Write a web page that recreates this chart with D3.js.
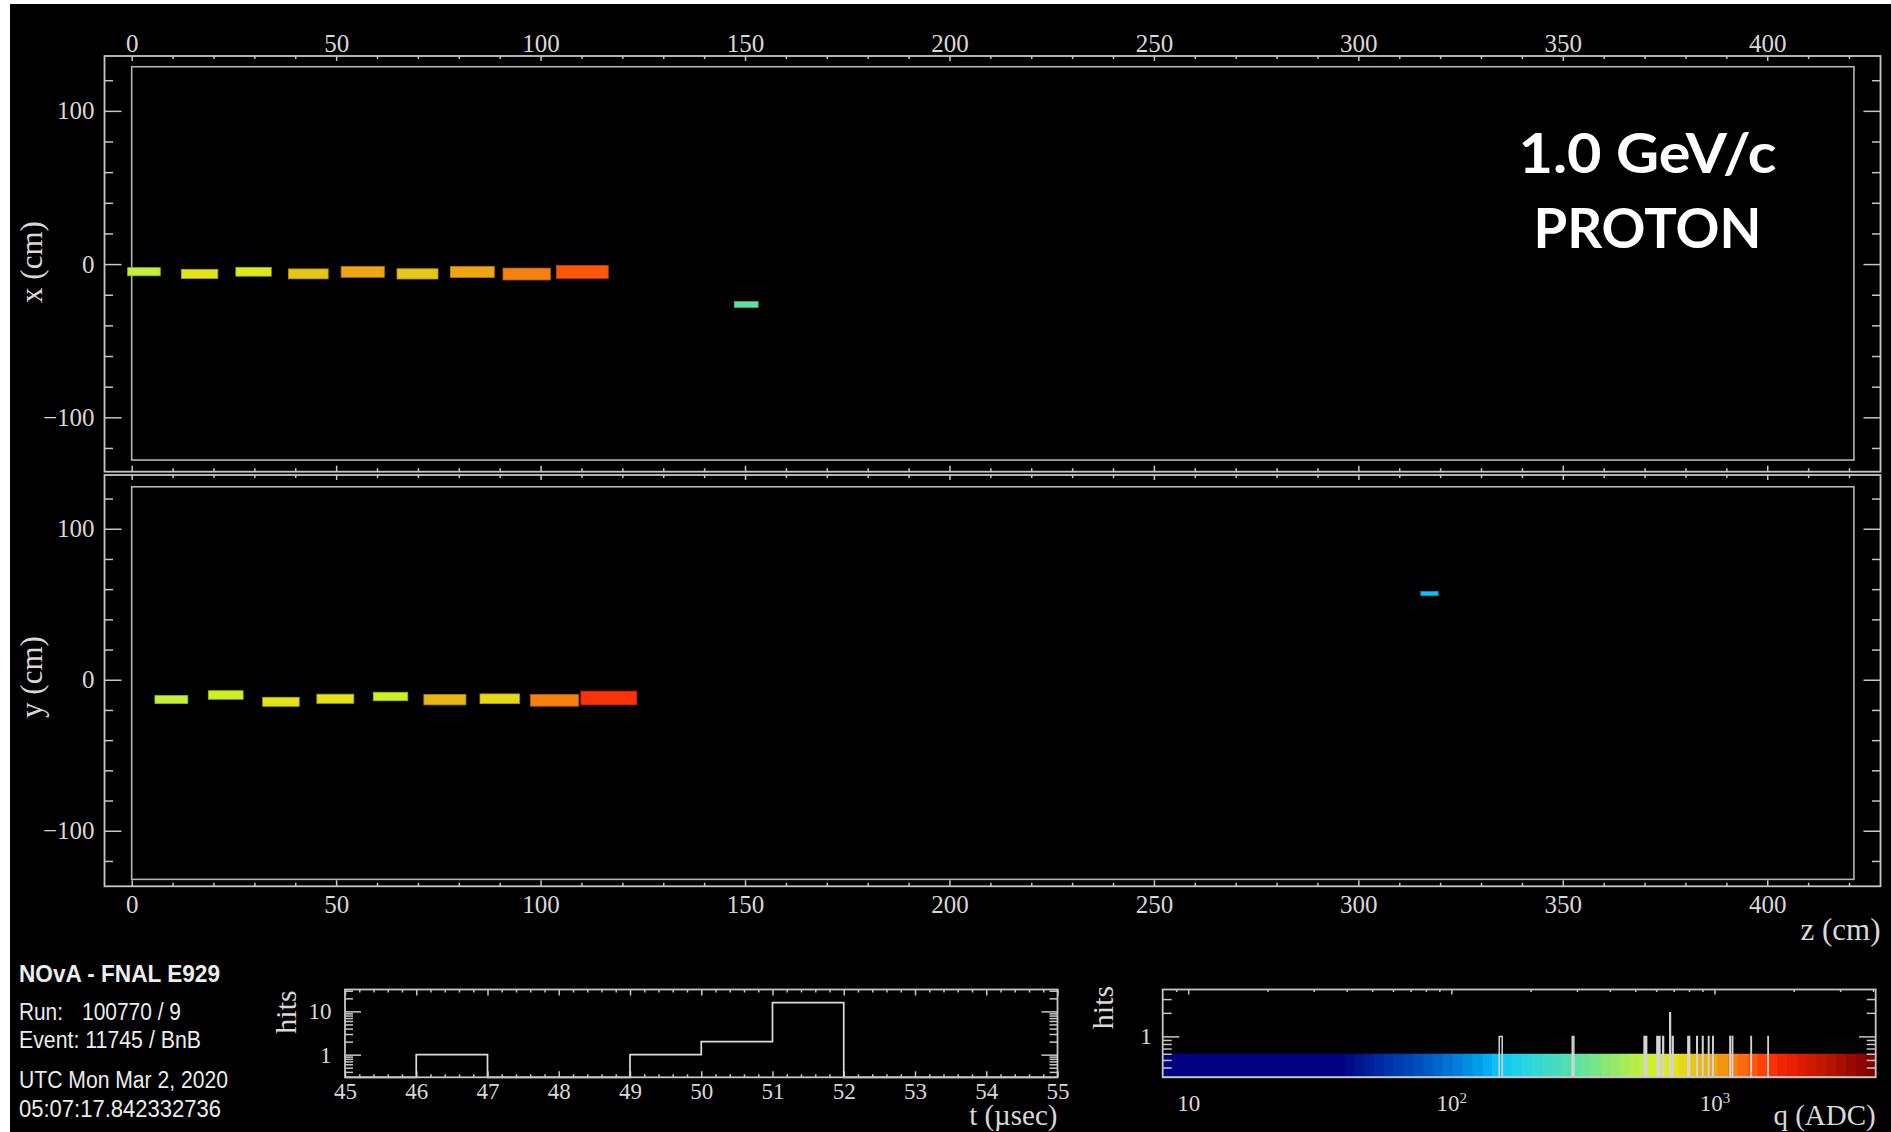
<!DOCTYPE html>
<html>
<head>
<meta charset="utf-8">
<script src="https://cdn.jsdelivr.net/npm/d3@7"></script>
<style>
  html, body { margin: 0; padding: 0; background: #fff; }
  svg { display: block; }
</style>
</head>
<body>
<svg id="display" width="1891" height="1132"></svg>
<script>
// ---------------------------------------------------------------
// Event data
// ---------------------------------------------------------------
// XZ view hits: plane centre z (cm), cell centre x (cm), charge (ADC)
const xzHitZ      = [3.0, 16.6, 29.8, 43.2, 56.5, 69.9, 83.3, 96.6, 110.2, 150.3];
const xzHitX      = [-5.0, -6.4, -5.0, -6.4, -5.1, -6.4, -5.1, -6.5, -5.1, -26.4];
const xzHitCharge = [541, 679, 638, 803, 949, 857, 985, 1145, 1379, 290];

// YZ view hits: plane centre z (cm), cell centre y (cm), charge (ADC)
const yzHitZ      = [9.7, 23.0, 36.5, 49.8, 63.3, 76.6, 90.0, 103.4, 116.7, 317.4];
const yzHitY      = [-13.1, -10.1, -14.6, -12.6, -11.1, -13.2, -12.6, -13.6, -12.1, 57.1];
const yzHitCharge = [551, 616, 679, 692, 606, 900, 792, 1171, 1596, 153];

// Active detector outline in each view (cm)
const detectorZ = [0, 421.2];
const detectorX = [-127.9, 128.8];
const detectorY = [-132.2, 127.8];

// Hit timing histogram (1 usec bins)
const timeBinEdges  = [45, 46, 47, 48, 49, 50, 51, 52, 53, 54, 55];
const timeBinCounts = [0, 1, 0, 0, 1, 2, 16, 0, 0, 0];

// Tick labels
const zTickLabels      = [0, 50, 100, 150, 200, 250, 300, 350, 400];
const transTickLabels  = [-100, 0, 100];
const timeTickLabels   = [45, 46, 47, 48, 49, 50, 51, 52, 53, 54, 55];
const hitsTickLabels   = [1, 10];
const chargeTickLabels = [10, 100, 1000];
const qHitsTickLabels  = [1];

// Text
const beamLabel  = ["1.0 GeV/c", "PROTON"];
const infoTitle  = "NOvA - FNAL E929";
const infoRun    = ["Run:", "100770 / 9"];
const infoEvent  = "Event: 11745 / BnB";
const infoDate   = "UTC Mon Mar 2, 2020";
const infoTime   = "05:07:17.842332736";

// ---------------------------------------------------------------
// Styling
// ---------------------------------------------------------------
const FRAME = "#c6c6c6";
const TEXT  = "#d8d8d8";
const SERIF = '"Liberation Serif", "Times New Roman", serif';
const SANS  = '"Liberation Sans", Arial, sans-serif';

// Charge palette (position along log-charge scale -> colour)
const palStops  = [0, .027, .088, .151, .212, .273, .304, .365, .441, .508, .569, .594, .637, .674, .711, .748, .798, .840, .909, 1];
const palColors = ["#000080", "#001088", "#0030a8", "#0050c0", "#0078d8", "#00a8f0", "#10c8f8", "#30d8d8",
                   "#58e0a8", "#90e870", "#c0f040", "#d0f020", "#e8e018", "#e8c018", "#f0a010", "#f87810",
                   "#ff4008", "#f02000", "#c01800", "#800000"];
const NCOL = 55;
const palInterp = d3.scaleLinear().domain(palStops).range(palColors).interpolate(d3.interpolateRgb);
const qPal = d3.scaleLog().domain([36, 4096]).range([0, 1]).clamp(true);
function chargeColor(q) {
  const i = Math.min(NCOL - 1, Math.floor(qPal(q) * NCOL));
  return palInterp(i / (NCOL - 1));
}

// Hit box size grows with charge (area ~ charge); cells are deeper in z than wide
const hitSize = d3.scaleSqrt().domain([0, 1600]).range([0, 13.7]);
const CELL_ASPECT = 1.5;

// ---------------------------------------------------------------
// Canvas
// ---------------------------------------------------------------
const W = 1891, H = 1132;
const svg = d3.select("#display");
svg.append("rect").attr("x", 10).attr("y", 4).attr("width", W - 10).attr("height", H - 4).attr("fill", "#000");

function styleAxis(g, size) {
  g.attr("font-family", SERIF).attr("font-size", size);
  g.select(".domain").remove();
  g.selectAll(".tick line").attr("stroke", FRAME).attr("stroke-width", 1.5);
  g.selectAll(".tick text").attr("fill", TEXT);
  return g;
}
function frame(x0, y0, x1, y1) {
  svg.append("rect").attr("x", x0).attr("y", y0).attr("width", x1 - x0).attr("height", y1 - y0)
    .attr("fill", "none").attr("stroke", FRAME).attr("stroke-width", 1.8);
}
function axisTitle(text, x, y, size, anchor, rotate) {
  const t = svg.append("text").attr("x", x).attr("y", y)
    .attr("font-family", SERIF).attr("font-size", size).attr("fill", TEXT)
    .attr("text-anchor", anchor).attr("dominant-baseline", "central").text(text);
  if (rotate) t.attr("transform", `rotate(-90 ${x} ${y})`);
  return t;
}

// ---------------------------------------------------------------
// Detector views
// ---------------------------------------------------------------
const plotL = 104.5, plotR = 1880.5;
const xzTop = 56, xzBot = 471.7, yzTop = 475, yzBot = 886.3;

const zScale = d3.scaleLinear().domain([-6.65, 427.7]).range([plotL, plotR]);
const xScale = d3.scaleLinear().domain([-135.5, 135.8]).range([xzBot, xzTop]);
const yScale = d3.scaleLinear().domain([-136.8, 135.6]).range([yzBot, yzTop]);

const zMinor = d3.range(0, 421, 10).filter(v => v % 50 !== 0);
const transMinor = d3.range(-120, 121, 20).filter(v => v % 100 !== 0);

function drawView(tScale, top, bot, hz, ht, hq, det, title, titleY, labelTop) {
  // detector outline
  svg.append("rect")
    .attr("x", zScale(detectorZ[0])).attr("y", tScale(det[1]))
    .attr("width", zScale(detectorZ[1]) - zScale(detectorZ[0]))
    .attr("height", tScale(det[0]) - tScale(det[1]))
    .attr("fill", "none").attr("stroke", "#b4b4b4").attr("stroke-width", 1.6);

  // hits
  svg.append("g").selectAll("rect").data(d3.range(hz.length)).join("rect")
    .attr("x", i => zScale(hz[i] - hitSize(hq[i]) / 2))
    .attr("width", i => zScale(hz[i] + hitSize(hq[i]) / 2) - zScale(hz[i] - hitSize(hq[i]) / 2))
    .attr("y", i => tScale(ht[i] + hitSize(hq[i]) / CELL_ASPECT / 2))
    .attr("height", i => tScale(ht[i] - hitSize(hq[i]) / CELL_ASPECT / 2) - tScale(ht[i] + hitSize(hq[i]) / CELL_ASPECT / 2))
    .attr("fill", i => chargeColor(hq[i]))
    .attr("stroke", i => d3.color(chargeColor(hq[i])).darker(0.8))
    .attr("stroke-width", 0.8);

  // z ticks, top and bottom
  const zTop = svg.append("g").attr("transform", `translate(0,${top})`);
  zTop.append("g").call(d3.axisTop(zScale).tickValues(zTickLabels).tickSize(-5).tickSizeOuter(0)
      .tickPadding(3.7).tickFormat(labelTop ? d3.format("d") : () => "")).call(g => styleAxis(g, 25));
  zTop.append("g").call(d3.axisTop(zScale).tickValues(zMinor).tickSize(-3).tickFormat(() => "")).call(g => styleAxis(g, 25));

  const zBot = svg.append("g").attr("transform", `translate(0,${bot})`);
  zBot.append("g").call(d3.axisBottom(zScale).tickValues(zTickLabels).tickSize(-6).tickSizeOuter(0)
      .tickPadding(9.4).tickFormat(labelTop ? () => "" : d3.format("d"))).call(g => styleAxis(g, 25));
  zBot.append("g").call(d3.axisBottom(zScale).tickValues(zMinor).tickSize(-3.5).tickFormat(() => "")).call(g => styleAxis(g, 25));

  // transverse ticks, left and right
  const left = svg.append("g").attr("transform", `translate(${plotL},0)`);
  left.append("g").call(d3.axisLeft(tScale).tickValues(transTickLabels).tickSize(-17).tickPadding(9.9))
    .call(g => styleAxis(g, 25));
  left.append("g").call(d3.axisLeft(tScale).tickValues(transMinor).tickSize(-8.5).tickFormat(() => ""))
    .call(g => styleAxis(g, 25));
  const right = svg.append("g").attr("transform", `translate(${plotR},0)`);
  right.append("g").call(d3.axisRight(tScale).tickValues(transTickLabels).tickSize(-17).tickFormat(() => ""))
    .call(g => styleAxis(g, 25));
  right.append("g").call(d3.axisRight(tScale).tickValues(transMinor).tickSize(-8.5).tickFormat(() => ""))
    .call(g => styleAxis(g, 25));

  frame(plotL, top, plotR, bot);
  axisTitle(title, 31, titleY, 31, "middle", true);
}

drawView(xScale, xzTop, xzBot, xzHitZ, xzHitX, xzHitCharge, detectorX, "x (cm)", 262, true);
drawView(yScale, yzTop, yzBot, yzHitZ, yzHitY, yzHitCharge, detectorY, "y (cm)", 677, false);
axisTitle("z (cm)", plotR, 929, 31, "end", false);

// beam label
svg.append("g").selectAll("text").data(beamLabel).join("text")
  .attr("x", 1647.5).attr("y", (d, i) => [172.7, 248.3][i])
  .attr("text-anchor", "middle").attr("font-family", "Lato, 'Open Sans', sans-serif")
  .attr("font-weight", 700).attr("font-size", 56).attr("fill", "#ffffff")
  .attr("textLength", (d, i) => [258, 228][i]).attr("lengthAdjust", "spacingAndGlyphs")
  .text(d => d);

// ---------------------------------------------------------------
// Run / event information
// ---------------------------------------------------------------
const info = svg.append("g").attr("font-family", SANS).attr("fill", "#ececec");
info.append("text").attr("x", 19).attr("y", 981.7).attr("font-size", 24).attr("font-weight", 700)
  .attr("textLength", 201).attr("lengthAdjust", "spacingAndGlyphs").text(infoTitle);
info.append("text").attr("x", 19).attr("y", 1020).attr("font-size", 23)
  .attr("textLength", 44).attr("lengthAdjust", "spacingAndGlyphs").text(infoRun[0]);
info.append("text").attr("x", 82).attr("y", 1020).attr("font-size", 23)
  .attr("textLength", 99).attr("lengthAdjust", "spacingAndGlyphs").text(infoRun[1]);
info.append("text").attr("x", 19).attr("y", 1048.3).attr("font-size", 23)
  .attr("textLength", 182).attr("lengthAdjust", "spacingAndGlyphs").text(infoEvent);
info.append("text").attr("x", 19).attr("y", 1088.3).attr("font-size", 23)
  .attr("textLength", 209).attr("lengthAdjust", "spacingAndGlyphs").text(infoDate);
info.append("text").attr("x", 19).attr("y", 1117).attr("font-size", 23)
  .attr("textLength", 202).attr("lengthAdjust", "spacingAndGlyphs").text(infoTime);

// ---------------------------------------------------------------
// Hit time histogram
// ---------------------------------------------------------------
const histTop = 989.5, histBot = 1077.3;
const tL = 345, tR = 1057.5;
const tScale = d3.scaleLinear().domain([timeBinEdges[0], timeBinEdges[timeBinEdges.length - 1]]).range([tL, tR]);
const tyScale = d3.scaleLog().domain([0.3, 2 * d3.max(timeBinCounts)]).range([histBot, histTop]);

function stepPath(edges, counts, xs, ys, base) {
  const pts = [[xs(edges[0]), base]];
  counts.forEach((c, i) => {
    const y = c > 0 ? ys(c) : base;
    pts.push([xs(edges[i]), y], [xs(edges[i + 1]), y]);
  });
  pts.push([xs(edges[edges.length - 1]), base]);
  return d3.line()(pts);
}

const tMinor = d3.range(45, 55.001, 0.2).filter(v => Math.abs(v - Math.round(v)) > 1e-6);
const logMinorT = [0.4, 0.5, 0.6, 0.7, 0.8, 0.9, 2, 3, 4, 5, 6, 7, 8, 9, 20, 30];

const tb = svg.append("g").attr("transform", `translate(0,${histBot})`);
tb.append("g").call(d3.axisBottom(tScale).tickValues(timeTickLabels).tickSize(-6).tickPadding(5.5)
  .tickFormat(d3.format("d"))).call(g => styleAxis(g, 23));
tb.append("g").call(d3.axisBottom(tScale).tickValues(tMinor).tickSize(-3).tickFormat(() => "")).call(g => styleAxis(g, 23));
const tt = svg.append("g").attr("transform", `translate(0,${histTop})`);
tt.append("g").call(d3.axisTop(tScale).tickValues(timeTickLabels).tickSize(-6).tickFormat(() => "")).call(g => styleAxis(g, 23));
tt.append("g").call(d3.axisTop(tScale).tickValues(tMinor).tickSize(-3).tickFormat(() => "")).call(g => styleAxis(g, 23));
const tl = svg.append("g").attr("transform", `translate(${tL},0)`);
tl.append("g").call(d3.axisLeft(tyScale).tickValues(hitsTickLabels).tickSize(-16).tickPadding(13.5)
  .tickFormat(d3.format("d"))).call(g => styleAxis(g, 23));
tl.append("g").call(d3.axisLeft(tyScale).tickValues(logMinorT).tickSize(-8).tickFormat(() => "")).call(g => styleAxis(g, 23));
const tr = svg.append("g").attr("transform", `translate(${tR},0)`);
tr.append("g").call(d3.axisRight(tyScale).tickValues(hitsTickLabels).tickSize(-16).tickFormat(() => "")).call(g => styleAxis(g, 23));
tr.append("g").call(d3.axisRight(tyScale).tickValues(logMinorT).tickSize(-8).tickFormat(() => "")).call(g => styleAxis(g, 23));

svg.append("path").attr("d", stepPath(timeBinEdges, timeBinCounts, tScale, tyScale, histBot))
  .attr("fill", "none").attr("stroke", "#dcdcdc").attr("stroke-width", 1.7);
frame(tL, histTop, tR, histBot);
axisTitle("hits", 285, 1012, 30, "middle", true);
axisTitle("t (\u00b5sec)", tR, 1115, 29, "end", false);

// ---------------------------------------------------------------
// Hit charge histogram with palette
// ---------------------------------------------------------------
const qL = 1162.7, qR = 1875.7;
const qScale = d3.scaleLog().domain([8, 4096]).range([qL, qR]);
const allCharge = xzHitCharge.concat(yzHitCharge);
const QBIN = 4;
const qBins = d3.bin().domain([8, 4096]).thresholds(d3.range(8 + QBIN, 4096, QBIN))(allCharge);
const qyScale = d3.scaleLog().domain([0.3, 2 * d3.max(qBins, b => b.length)]).range([histBot, histTop - 0.2]);

// palette strip
const bands = d3.range(NCOL).map(i => ({
  q0: i === 0 ? 8 : qPal.invert(i / NCOL),
  q1: qPal.invert((i + 1) / NCOL),
  c: palInterp(i / (NCOL - 1))
}));
svg.append("g").selectAll("rect").data(bands).join("rect")
  .attr("x", d => qScale(d.q0)).attr("width", d => qScale(d.q1) - qScale(d.q0) + 0.6)
  .attr("y", qyScale(0.6)).attr("height", qyScale(0.3) - qyScale(0.6))
  .attr("fill", d => d.c);

const qMinor = [9, 20, 30, 40, 50, 60, 70, 80, 90, 200, 300, 400, 500, 600, 700, 800, 900, 2000, 3000, 4000];
const logMinorQ = [0.4, 0.5, 0.6, 0.7, 0.8, 0.9, 2, 3];

const qt = svg.append("g").attr("transform", `translate(0,${histTop})`);
qt.append("g").call(d3.axisTop(qScale).tickValues(chargeTickLabels).tickSize(-5).tickFormat(() => "")).call(g => styleAxis(g, 23));
qt.append("g").call(d3.axisTop(qScale).tickValues(qMinor).tickSize(-2.5).tickFormat(() => "")).call(g => styleAxis(g, 23));
const qb = svg.append("g").attr("transform", `translate(0,${histBot})`);
qb.append("g").call(d3.axisBottom(qScale).tickValues(chargeTickLabels).tickSize(0).tickPadding(17.4))
  .call(g => styleAxis(g, 23))
  .call(g => g.selectAll(".tick text").each(function (d) {
    const t = d3.select(this).text(null);
    const e = Math.round(Math.log10(d));
    t.append("tspan").text("10");
    if (e > 1) t.append("tspan").attr("dy", "-0.55em").attr("font-size", 15).text(e);
  }));
const ql = svg.append("g").attr("transform", `translate(${qL},0)`);
ql.append("g").call(d3.axisLeft(qyScale).tickValues(qHitsTickLabels).tickSize(-16.7).tickPadding(11)
  .tickFormat(d3.format("d"))).call(g => styleAxis(g, 23));
ql.append("g").call(d3.axisLeft(qyScale).tickValues(logMinorQ).tickSize(-9).tickFormat(() => "")).call(g => styleAxis(g, 23));
const qr = svg.append("g").attr("transform", `translate(${qR},0)`);
qr.append("g").call(d3.axisRight(qyScale).tickValues(qHitsTickLabels).tickSize(-16.7).tickFormat(() => "")).call(g => styleAxis(g, 23));
qr.append("g").call(d3.axisRight(qyScale).tickValues(logMinorQ).tickSize(-9).tickFormat(() => "")).call(g => styleAxis(g, 23));

const qEdges = [qBins[0].x0].concat(qBins.map(b => b.x1));
svg.append("path").attr("d", stepPath(qEdges, qBins.map(b => b.length), qScale, qyScale, histBot))
  .attr("fill", "none").attr("stroke", "#d4d4d4").attr("stroke-width", 1.5);
frame(qL, histTop, qR, histBot);
axisTitle("hits", 1102, 1007.5, 30, "middle", true);
axisTitle("q (ADC)", qR, 1115, 29, "end", false);
</script>
</body>
</html>
